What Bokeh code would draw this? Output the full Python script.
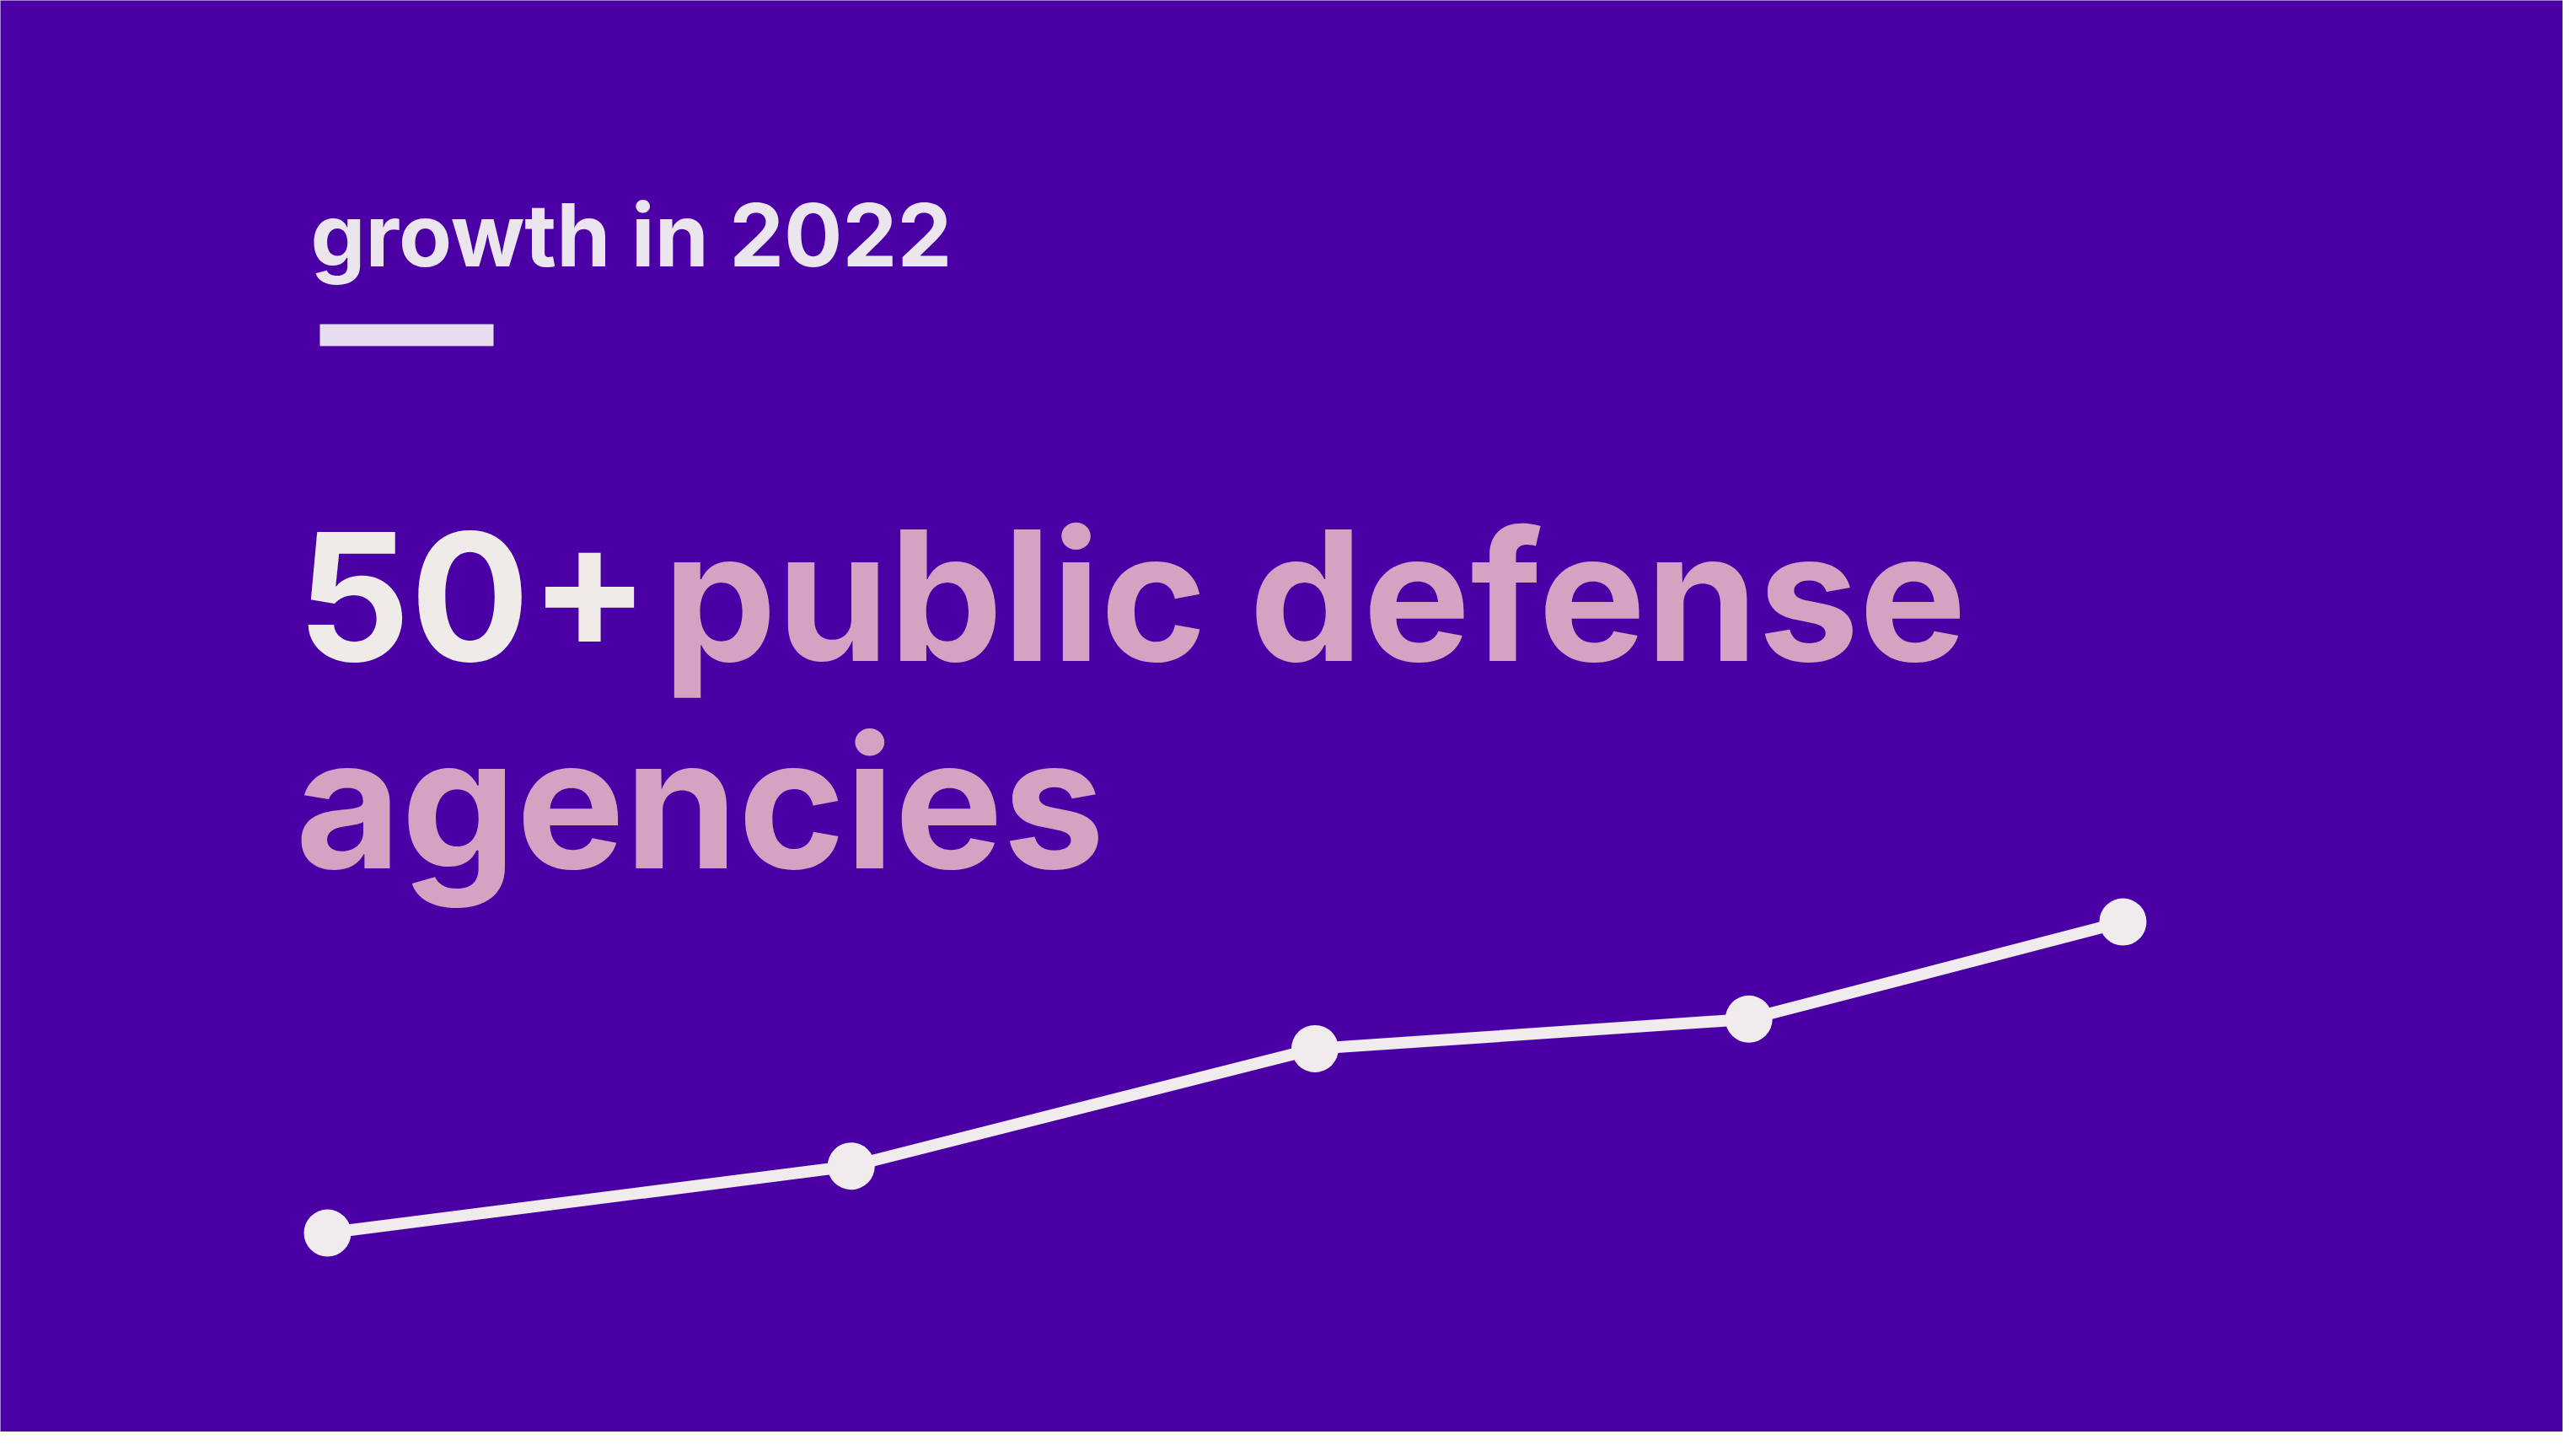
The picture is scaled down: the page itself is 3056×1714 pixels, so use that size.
from bokeh.plotting import figure
from bokeh.models import Label, BoxAnnotation, Range1d, ColumnDataSource
from bokeh.embed import file_html
from bokeh.resources import INLINE

# ---- data ----
month = [0, 3.5, 6.6, 9.5, 12]          # position through 2022 (months)
agencies = [12, 20.6, 35.7, 39.5, 52]   # number of agencies (approx.)

kicker = "growth in 2022"
headline_number = "50+"
headline_line1 = "public defense"
headline_line2 = "agencies"

BG = "#4a00a5"
WHITE = "#f0ecee"
PINK = "#d6a2c2"
FONT = "Inter"

W, H = 3040, 1698

p = figure(width=W, height=H, output_backend="svg", toolbar_location=None,
           x_axis_location=None, y_axis_location=None, min_border=0,
           x_range=Range1d(-2.186, 14.941), y_range=Range1d(-13.58, 170.48))
p.background_fill_color = BG
p.border_fill_color = BG
p.outline_line_color = None
p.grid.visible = False

src = ColumnDataSource(dict(x=month, y=agencies))
p.line("x", "y", source=src, line_color=WHITE, line_width=14, line_join="round")
p.scatter("x", "y", source=src, size=56, fill_color=WHITE, line_color=None)

def sy(top_y):
    return H - top_y

p.add_layout(Label(x=368, y=sy(278), x_units="screen", y_units="screen",
                   text=kicker, text_font=FONT, text_font_size="103px",
                   text_font_style="bold", text_color="#ebe6ee",
                   text_baseline="alphabetic", text_align="left"))
p.add_layout(BoxAnnotation(left=379, right=585, top=sy(384), bottom=sy(410),
                           left_units="screen", right_units="screen",
                           top_units="screen", bottom_units="screen",
                           fill_color="#e6deef", fill_alpha=1.0, line_color=None))
p.add_layout(Label(x=352, y=sy(707), x_units="screen", y_units="screen",
                   text=headline_number, text_font=FONT, text_font_size="210px",
                   text_font_style="bold", text_color="#efebe8",
                   text_baseline="alphabetic", text_align="left"))
p.add_layout(Label(x=786, y=sy(706), x_units="screen", y_units="screen",
                   text=headline_line1, text_font=FONT, text_font_size="214px",
                   text_font_style="bold", text_color=PINK,
                   text_baseline="alphabetic", text_align="left"))
p.add_layout(Label(x=350, y=sy(951), x_units="screen", y_units="screen",
                   text=headline_line2, text_font=FONT, text_font_size="216px",
                   text_font_style="bold", text_color=PINK,
                   text_baseline="alphabetic", text_align="left"))

html = file_html(p, INLINE)
html = html.replace("<body>", '<body style="background-color:%s;">' % BG, 1)
open("out.html", "w").write(html)
